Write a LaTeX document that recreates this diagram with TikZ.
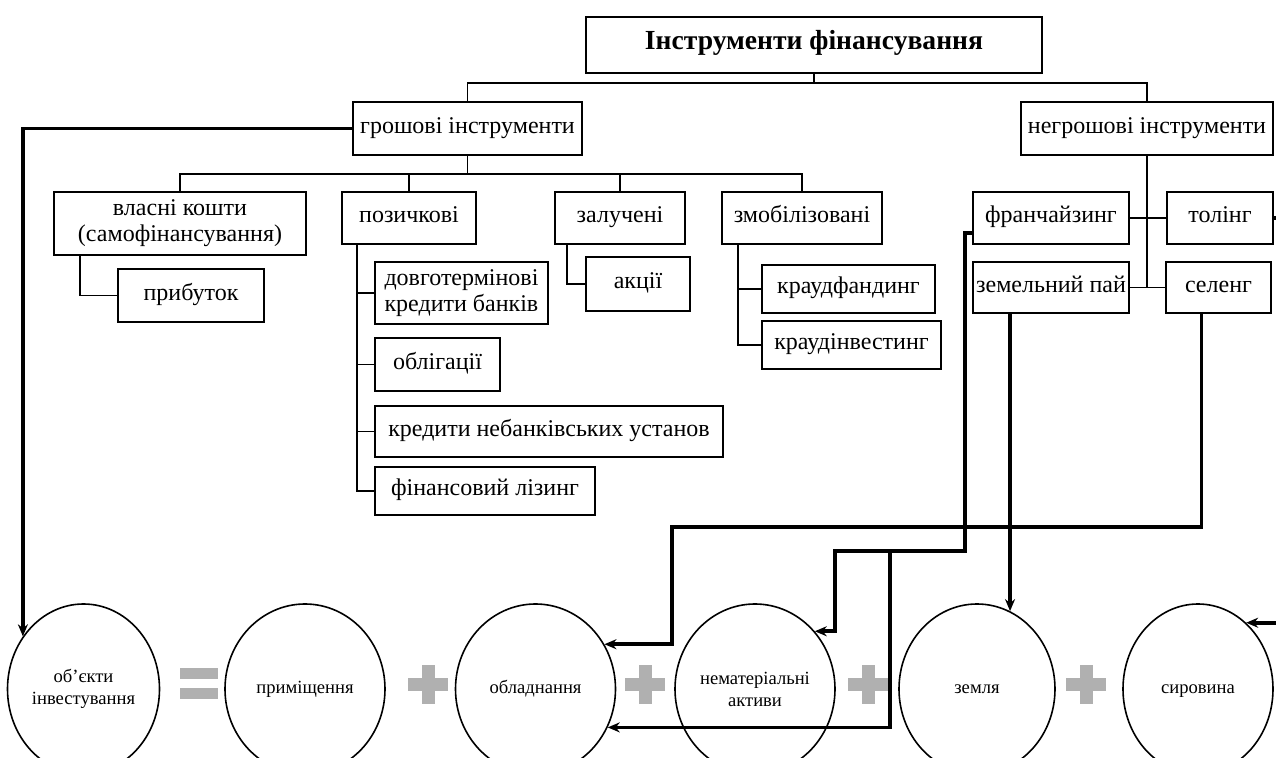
\documentclass[tikz,border=0pt]{standalone}
\usepackage{fontspec}
\setmainfont{Liberation Serif}
\usetikzlibrary{shapes.geometric,arrows.meta,calc}

\definecolor{signgray}{RGB}{176,176,176}

\tikzset{
  box/.style={draw, line width=0.9pt, inner sep=0pt, align=center,
              text height=1.5ex, text depth=0.5ex,
              font=\fontsize{12}{13}\selectfont},
  twoline/.style={text height=, text depth=, font=\fontsize{12}{13}\selectfont},
  dim/.style 2 args={minimum width=#1*0.5pt, minimum height=#2*0.5pt},
  circ/.style={ellipse, draw, line width=0.8pt, inner sep=0pt, align=center,
               text height=1.5ex, text depth=0.5ex,
               font=\fontsize{9.3}{11}\selectfont},
  tree/.style={line width=0.9pt},
  heavy/.style={line width=1.9pt},
  arr/.style={heavy, -{Stealth[length=6pt,width=5pt]}},
}

\begin{document}
\begin{tikzpicture}[x=0.5pt, y=-0.5pt]
\useasboundingbox (0,0) rectangle (1276,758);

% ---- top level ----
\node[box, dim={456}{56}, font=\fontsize{13.8}{15}\selectfont\bfseries] (top) at (814,45) {Інструменти фінансування};
\node[box, dim={229}{53}] (gr) at (467.5,128.5) {грошові інструменти};
\node[box, dim={252}{53}] (ng) at (1147,128.5) {негрошові інструменти};

% ---- money instruments ----
\node[box, twoline, dim={252}{63}] (vl) at (180,223.5) {власні кошти\\(самофінансування)};
\node[box, dim={146}{53}] (pr) at (191,295.5) {прибуток};
\node[box, dim={134}{52}] (pz) at (409,218) {позичкові};
\node[box, twoline, dim={173}{62}, align=left] (dk) at (461.5,293) {довготермінові\\кредити банків};
\node[box, dim={125}{53}] (ob) at (437.5,364.5) {облігації};
\node[box, dim={348}{51}] (kn) at (549,431.5) {кредити небанківських установ};
\node[box, dim={220}{48}] (fl) at (485,491) {фінансовий лізинг};
\node[box, dim={130}{52}] (zl) at (620,218) {залучені};
\node[box, dim={104}{54}] (ak) at (638,284) {акції};
\node[box, dim={160}{52}] (zm) at (802,218) {змобілізовані};
\node[box, dim={173}{48}] (kf) at (848.5,289) {краудфандинг};
\node[box, dim={179}{48}] (ki) at (851.5,345) {краудінвестинг};

% ---- non-money instruments ----
\node[box, dim={156}{52}] (fr) at (1051,218) {франчайзинг};
\node[box, dim={106}{52}] (tl) at (1220,218) {толінг};
\node[box, dim={156}{51}] (zp) at (1051,287.5) {земельний пай};
\node[box, dim={105}{51}] (sl) at (1218.5,287.5) {селенг};

% ---- investment objects ----
\node[circ, text height=, text depth=, dim={152}{170}] (obj) at (83.5,689) {об’єкти\\інвестування};
\node[circ, dim={160}{170}] (prm) at (305,689) {приміщення};
\node[circ, dim={160}{170}] (obl) at (535.5,689) {обладнання};
\node[circ, text height=, text depth=, dim={160}{170}] (nem) at (755,689) {нематеріальні\\активи};
\node[circ, dim={156}{170}] (zem) at (977,689) {земля};
\node[circ, dim={150}{170}] (syr) at (1198,689) {сировина};

% equals and plus signs
\fill[signgray] (180,668) rectangle (218,679);
\fill[signgray] (180,688) rectangle (218,699);
\foreach \cx in {428,645,868,1086}{
  \fill[signgray] (\cx-20,678) rectangle (\cx+20,691);
  \fill[signgray] (\cx-6.5,665) rectangle (\cx+6.5,704);
}

% ---- tree connectors ----
\draw[tree] (top.south) -- ++(0,9) coordinate (busT);
\draw[tree] (gr.north) |- (busT) -| (ng.north);
\draw[tree] (gr.south) -- ++(0,18) coordinate (busG);
\draw[tree] (vl.north) |- (busG) -| (zm.north);
\draw[tree] (pz.north) -- (pz.north |- busG);
\draw[tree] (zl.north) -- (zl.north |- busG);

\draw[tree] ([xshift=-50pt]vl.south) |- (pr.west);

\coordinate (pzT) at ([xshift=-26pt]pz.south);
\draw[tree] (pzT) |- (fl.west);
\foreach \n in {dk,ob,kn}{ \draw[tree] (pzT |- \n.west) -- (\n.west); }

\draw[tree] ([xshift=-26.5pt]zl.south) |- (ak.west);

\coordinate (zmT) at ([xshift=-32pt]zm.south);
\draw[tree] (zmT) |- (ki.west);
\draw[tree] (zmT |- kf.west) -- (kf.west);

\draw[tree] (ng.south) -- (ng.south |- sl.west);
\draw[tree, line width=1.3pt] (fr.east) -- (tl.east -| tl.west);
\draw[tree] (zp.east) -- (sl.west);

% ---- arrows to investment objects ----
\draw[arr] (gr.west) -| (obj.139);

\coordinate (sB) at (672,527);
\draw[arr] ([xshift=-8.5pt]sl.south) |- (sB) |- (obl.33);

\coordinate (fB1) at (965,551);
\coordinate (fB2) at (835,551);
\coordinate (fB3) at (890,551);
\draw[arr] ([yshift=-7.5pt]fr.west) -| (fB1) -- (fB2) |- (nem.44);
\draw[arr] (fB3) |- (obl.-28);

\draw[arr] (zem.67 |- zp.south) -- (zem.67);

\coordinate (tB) at (1292,218);
\draw[arr] (tl.east) -- (tB) |- (syr.54);

\end{tikzpicture}
\end{document}
